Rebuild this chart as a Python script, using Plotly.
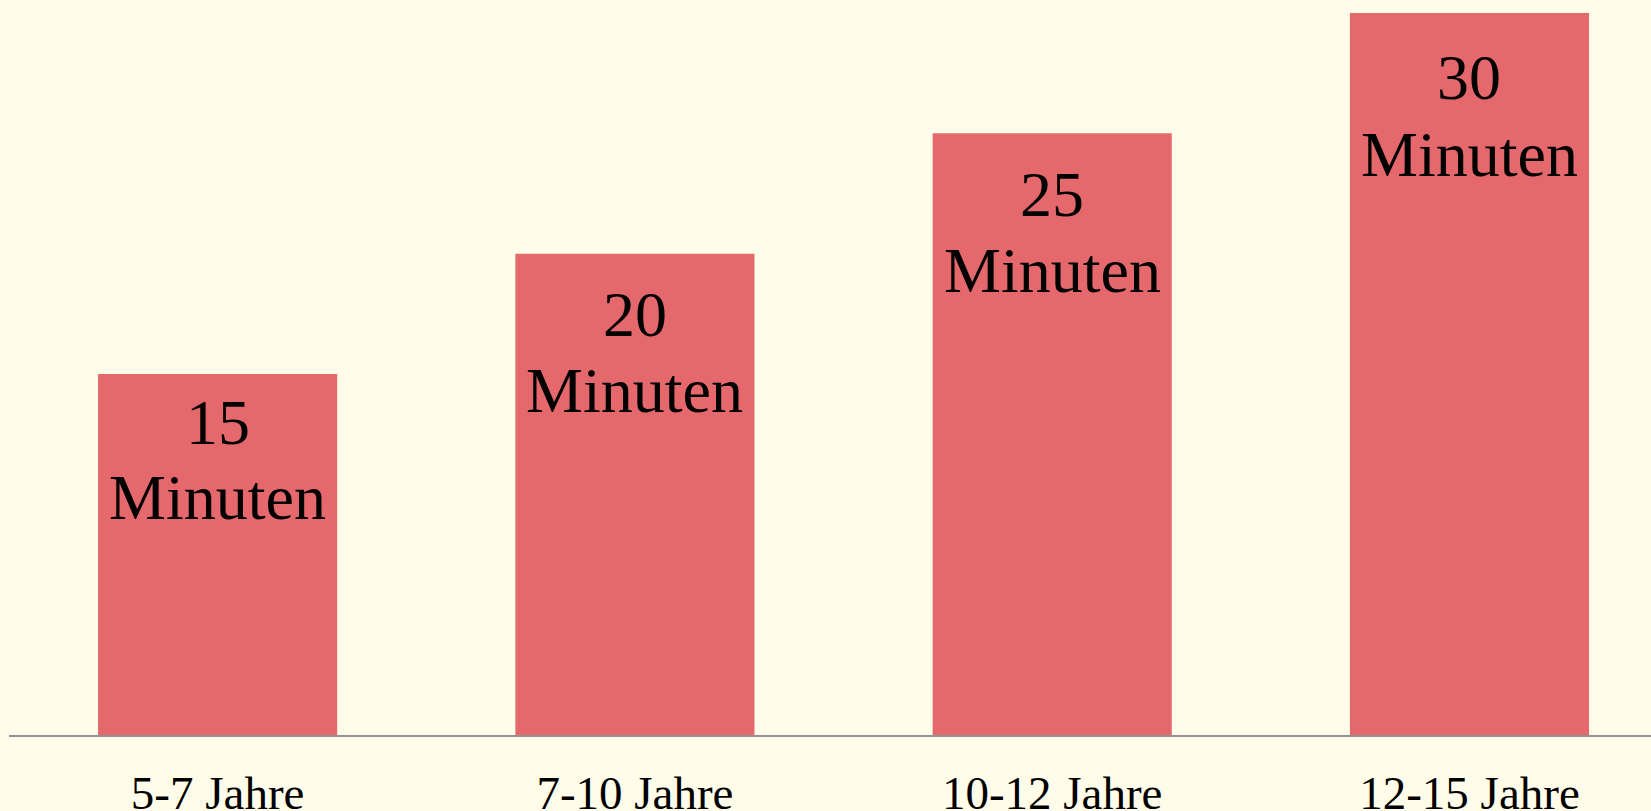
import plotly.graph_objects as go

categories = ["5-7 Jahre", "7-10 Jahre", "10-12 Jahre", "12-15 Jahre"]
values = [15, 20, 25, 30]
unit_label = "Minuten"

BG = "#FFFDE9"
BAR = "#E4686C"
FONT = "Liberation Serif, Times New Roman, serif"

# label placement (pixel shifts below each bar top)
num_shift = [-11, -23, -24, -27]
unit_shift = [-86, -99, -100, -104]

fig = go.Figure()
fig.add_trace(go.Bar(
    x=categories, y=values,
    marker=dict(color=BAR, line=dict(width=0)),
    width=0.573,
    hoverinfo="skip",
))

annotations = []
for c, v, ns, us in zip(categories, values, num_shift, unit_shift):
    annotations.append(dict(x=c, y=v, xref="x", yref="y", text=str(v), showarrow=False,
                            yanchor="top", yshift=ns, font=dict(family=FONT, size=64, color="black")))
    annotations.append(dict(x=c, y=v, xref="x", yref="y", text=unit_label, showarrow=False,
                            yanchor="top", yshift=us, font=dict(family=FONT, size=64, color="black")))

fig.update_layout(
    width=1651, height=811,
    margin=dict(l=9, r=0, t=0, b=76, pad=0, autoexpand=False),
    paper_bgcolor=BG, plot_bgcolor=BG,
    showlegend=False,
    annotations=annotations,
    xaxis=dict(range=[-0.5, 3.435], showline=True, linecolor="#929292", linewidth=2,
               showgrid=False, zeroline=False, ticks="", ticklabelstandoff=16,
               automargin=False,
               tickfont=dict(family=FONT, size=47, color="black")),
    yaxis=dict(range=[0, 30.54], visible=False, showgrid=False, zeroline=False, automargin=False),
)

fig.write_html("out.html", config={"displayModeBar": False},
               post_script="document.body.style.margin='0';document.body.style.background='%s';" % BG)
